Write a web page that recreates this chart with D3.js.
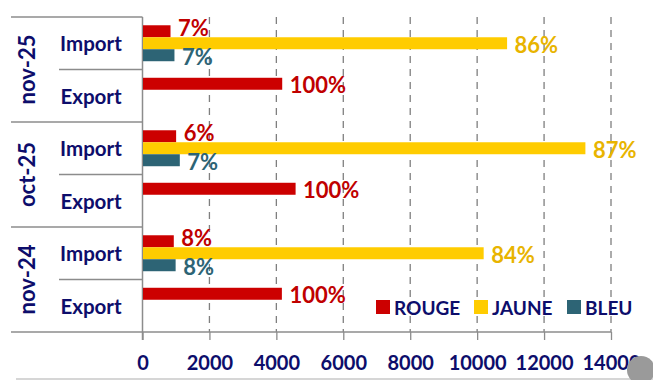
<!DOCTYPE html>
<html>
<head>
<meta charset="utf-8">
<script src="https://cdn.jsdelivr.net/npm/d3@7"></script>
<style>
  body { margin: 0; background: #fff; }
  svg { display: block; font-family: Lato, "Open Sans", sans-serif; font-weight: 700; }
</style>
</head>
<body>
<svg id="chart"></svg>
<script>
// data
const months = ["nov-25", "oct-25", "nov-24"];
const flows = ["Import", "Export"];
const series = ["ROUGE", "JAUNE", "BLEU"];
// rows: nov-25 Import, nov-25 Export, oct-25 Import, oct-25 Export, nov-24 Import, nov-24 Export
const rouge = [822, 4160, 990, 4560, 920, 4150];
const jaune = [10880, null, 13220, null, 10180, null];
const bleu = [940, null, 1100, null, 975, null];
const rougeLabels = ["7%", "100%", "6%", "100%", "8%", "100%"];
const jauneLabels = ["86%", null, "87%", null, "84%", null];
const bleuLabels = ["7%", null, "7%", null, "8%", null];
const xTicks = [0, 2000, 4000, 6000, 8000, 10000, 12000, 14000];

const colors = { ROUGE: "#cc0000", JAUNE: "#ffcc00", BLEU: "#2d6475" };
const textColors = { ROUGE: "#c00000", JAUNE: "#e8b400", BLEU: "#2d6475" };
const navy = "#0d0d6b";
const lineGray = "#8c8c8c";

const width = 653, height = 380;
const plotTop = 17, plotBottom = 332, tableLeft = 11, subLeft = 59;

const svg = d3.select("#chart").attr("width", width).attr("height", height);

// rows
const rows = [];
months.forEach(m => flows.forEach(f => rows.push(m + "|" + f)));

const x = d3.scaleLinear().domain([0, 14000]).range([142.5, 611]);
const y = d3.scaleBand().domain(rows).range([plotTop, plotBottom]);
const yGroup = d3.scaleBand().domain(months).range([plotTop, plotBottom]);
const ySeries = d3.scaleBand().domain(series).range([0, y.bandwidth()]).paddingOuter(0.69);

// gridlines (dashed)
svg.append("g").selectAll("line")
    .data(xTicks.slice(1))
    .join("line")
    .attr("x1", d => x(d)).attr("x2", d => x(d))
    .attr("y1", plotTop).attr("y2", plotBottom)
    .attr("stroke", "#7f7f7f")
    .attr("stroke-width", 1.3)
    .attr("stroke-dasharray", "7,6");

// x axis
const xAxis = d3.axisBottom(x).tickValues(xTicks).tickSize(8).tickPadding(16).tickFormat(d3.format("d"));
const xg = svg.append("g").attr("transform", `translate(0,${plotBottom})`).call(xAxis);
xg.select(".domain").remove();
xg.selectAll(".tick line").attr("stroke", lineGray).attr("stroke-width", 1.3);
xg.selectAll(".tick text")
    .attr("fill", navy)
    .style("font-size", "20px")
    .style("font-family", "Lato, sans-serif")
    .style("font-weight", 700);

// category table lines
const tbl = svg.append("g").attr("stroke", lineGray).attr("stroke-width", 1.5);
tbl.append("line").attr("x1", tableLeft).attr("x2", x(14000)).attr("y1", plotBottom).attr("y2", plotBottom);
months.forEach(m => {
    tbl.append("line").attr("x1", tableLeft).attr("x2", x(0))
        .attr("y1", yGroup(m)).attr("y2", yGroup(m));
    tbl.append("line").attr("x1", subLeft).attr("x2", x(0))
        .attr("y1", y(m + "|Export")).attr("y2", y(m + "|Export"));
});
tbl.append("line").attr("x1", x(0)).attr("x2", x(0)).attr("y1", plotTop).attr("y2", plotBottom + 8);

// bars
const bars = [];
rows.forEach((r, i) => {
    [["ROUGE", rouge, rougeLabels], ["JAUNE", jaune, jauneLabels], ["BLEU", bleu, bleuLabels]].forEach(([s, vals, lbls]) => {
        if (vals[i] != null) bars.push({ row: r, s: s, v: vals[i], lbl: lbls[i] });
    });
});

svg.append("g").selectAll("rect")
    .data(bars)
    .join("rect")
    .attr("x", x(0) + 0.5)
    .attr("y", d => y(d.row) + ySeries(d.s))
    .attr("height", ySeries.bandwidth())
    .attr("width", d => x(d.v) - x(0))
    .attr("fill", d => colors[d.s]);

svg.append("g").selectAll("text")
    .data(bars)
    .join("text")
    .attr("x", d => x(d.v) + 8)
    .attr("y", d => y(d.row) + ySeries(d.s) + ySeries.bandwidth() / 2 + (d.s === "ROUGE" && d.row.endsWith("Import") ? -4 : 1))
    .attr("dominant-baseline", "central")
    .attr("fill", d => textColors[d.s])
    .style("font-size", "22px")
    .text(d => d.lbl);

// category labels
svg.append("g").selectAll("text")
    .data(rows)
    .join("text")
    .attr("x", 91)
    .attr("y", d => y(d) + y.bandwidth() / 2)
    .attr("text-anchor", "middle")
    .attr("dominant-baseline", "central")
    .attr("fill", navy)
    .style("font-size", "20.5px")
    .text(d => d.split("|")[1]);

svg.append("g").selectAll("text")
    .data(months)
    .join("text")
    .attr("transform", d => `translate(26,${yGroup(d) + yGroup.bandwidth() / 2}) rotate(-90)`)
    .attr("text-anchor", "middle")
    .attr("dominant-baseline", "central")
    .attr("fill", navy)
    .style("font-size", "22px")
    .text(d => d);

// legend
const legendX = [376, 474, 567];
const lg = svg.append("g").selectAll("g")
    .data(series)
    .join("g")
    .attr("transform", (d, i) => `translate(${legendX[i]},300)`);
lg.append("rect").attr("width", 14).attr("height", 14).attr("fill", d => colors[d]);
lg.append("text")
    .attr("x", 18).attr("y", 7)
    .attr("dominant-baseline", "central")
    .attr("fill", navy)
    .style("font-size", "19px")
    .text(d => d);

// bottom frame line and corner blob from the screenshot
svg.append("line").attr("x1", 16).attr("x2", width).attr("y1", 379).attr("y2", 379)
    .attr("stroke", "#c8c8c8").attr("stroke-width", 1.5);
svg.append("ellipse").attr("cx", 641).attr("cy", 370).attr("rx", 14).attr("ry", 14).attr("fill", "#9a9a9a");
</script>
</body>
</html>
